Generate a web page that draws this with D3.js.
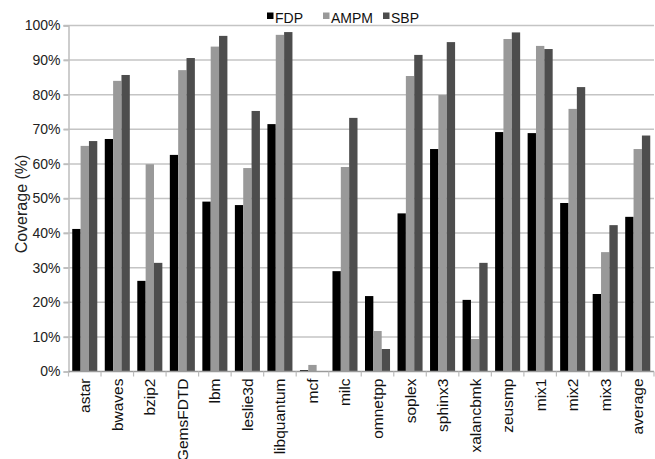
<!DOCTYPE html>
<html><head><meta charset="utf-8">
<script src="https://cdn.jsdelivr.net/npm/d3@7"></script>
<style>body{margin:0;background:#fff}svg{display:block}text{font-family:"Liberation Sans",Arial,sans-serif}</style>
</head><body><svg id="c" width="655" height="459"></svg>
<script>
const categories = ["astar","bwaves","bzip2","GemsFDTD","lbm","leslie3d","libquantum","mcf","milc","omnetpp","soplex","sphinx3","xalancbmk","zeusmp","mix1","mix2","mix3","average"];
const seriesNames = ["FDP","AMPM","SBP"];
const FDP  = [41.2,67.2,26.2,62.6,49.1,48.1,71.5,0.4,29.0,21.8,45.7,64.3,20.7,69.2,68.9,48.7,22.4,44.7];
const AMPM = [65.2,84.0,59.9,87.1,93.9,58.8,97.3,1.9,59.1,11.7,85.4,79.9,9.4,96.1,94.1,75.9,34.5,64.3];
const SBP  = [66.6,85.7,31.4,90.6,97.0,75.3,98.1,0.1,73.3,6.5,91.5,95.2,31.4,98.0,93.2,82.2,42.3,68.2];
const yTicks = [0,10,20,30,40,50,60,70,80,90,100];
const colors = ["#000000","#999999","#4d4d4d"];

(function(){
const svg = d3.select("#c");
const pl = 68.5, pr = 654, pt = 25.5, pb = 371.5;
const x0 = d3.scaleBand().domain(categories).range([pl, pr]).paddingInner(0.23).paddingOuter(0.115);
const x1 = d3.scaleBand().domain(seriesNames).range([0, x0.bandwidth()]);
const y = d3.scaleLinear().domain([0,100]).range([pb, pt]);
const color = d3.scaleOrdinal().domain(seriesNames).range(colors);
const data = [FDP, AMPM, SBP];

svg.append("g").selectAll("line").data(yTicks.filter(d=>d>0)).join("line")
  .attr("x1", pl-5).attr("x2", pr).attr("y1", d=>y(d)).attr("y2", d=>y(d))
  .attr("stroke", "#c4c4c4").attr("stroke-width", 1.5);

const yAxis = d3.axisLeft(y).tickValues(yTicks).tickFormat(d=>d+"%").tickSize(5).tickPadding(3);
const gy = svg.append("g").attr("transform", `translate(${pl},0)`).call(yAxis);
gy.select(".domain").attr("stroke", "#bdbdbd").attr("stroke-width", 1.5);
gy.selectAll(".tick line").attr("stroke", "#bdbdbd").attr("stroke-width", 1.5);
gy.selectAll(".tick text").attr("font-size", 14).attr("fill", "#222").attr("font-family", '"Liberation Sans",Arial,sans-serif');

const groups = svg.append("g").selectAll("g").data(categories).join("g")
  .attr("transform", d=>`translate(${x0(d)},0)`);
groups.selectAll("rect").data((c,i)=>seriesNames.map((s,j)=>({s, v:data[j][i]}))).join("rect")
  .attr("x", d=>x1(d.s)).attr("width", x1.bandwidth())
  .attr("y", d=>y(d.v)).attr("height", d=>pb - y(d.v))
  .attr("fill", d=>color(d.s));

const step = x0.step();
const gx = svg.append("g").attr("transform", `translate(0,${pb})`);
gx.append("line").attr("x1", pl).attr("x2", pr).attr("stroke", "#9a9a9a").attr("stroke-width", 1.5);
gx.selectAll("line.tk").data(d3.range(categories.length+1)).join("line").attr("class","tk")
  .attr("x1", i=>pl + i*step).attr("x2", i=>pl + i*step).attr("y1",0).attr("y2",5)
  .attr("stroke", "#bdbdbd").attr("stroke-width", 1.2);
gx.selectAll("text").data(categories).join("text")
  .attr("transform", d=>`translate(${x0(d)+x0.bandwidth()/2+5.5},7) rotate(-90)`)
  .attr("text-anchor", "end").attr("font-size", 15.5).attr("fill", "#111").text(d=>d);

svg.append("text").attr("transform", "translate(27,204) rotate(-90)").attr("text-anchor","middle")
  .attr("font-size", 16).attr("fill", "#222").text("Coverage (%)");

const legX = [267, 323, 383];
const lg = svg.append("g").selectAll("g").data(seriesNames).join("g")
  .attr("transform", (d,i)=>`translate(${legX[i]},0)`);
lg.append("rect").attr("x",0).attr("y",12.5).attr("width",6.5).attr("height",6.5).attr("fill", d=>color(d));
lg.append("text").attr("x",8).attr("y",22.5).attr("font-size",14).attr("fill","#111").text(d=>d);
})();
</script></body></html>
